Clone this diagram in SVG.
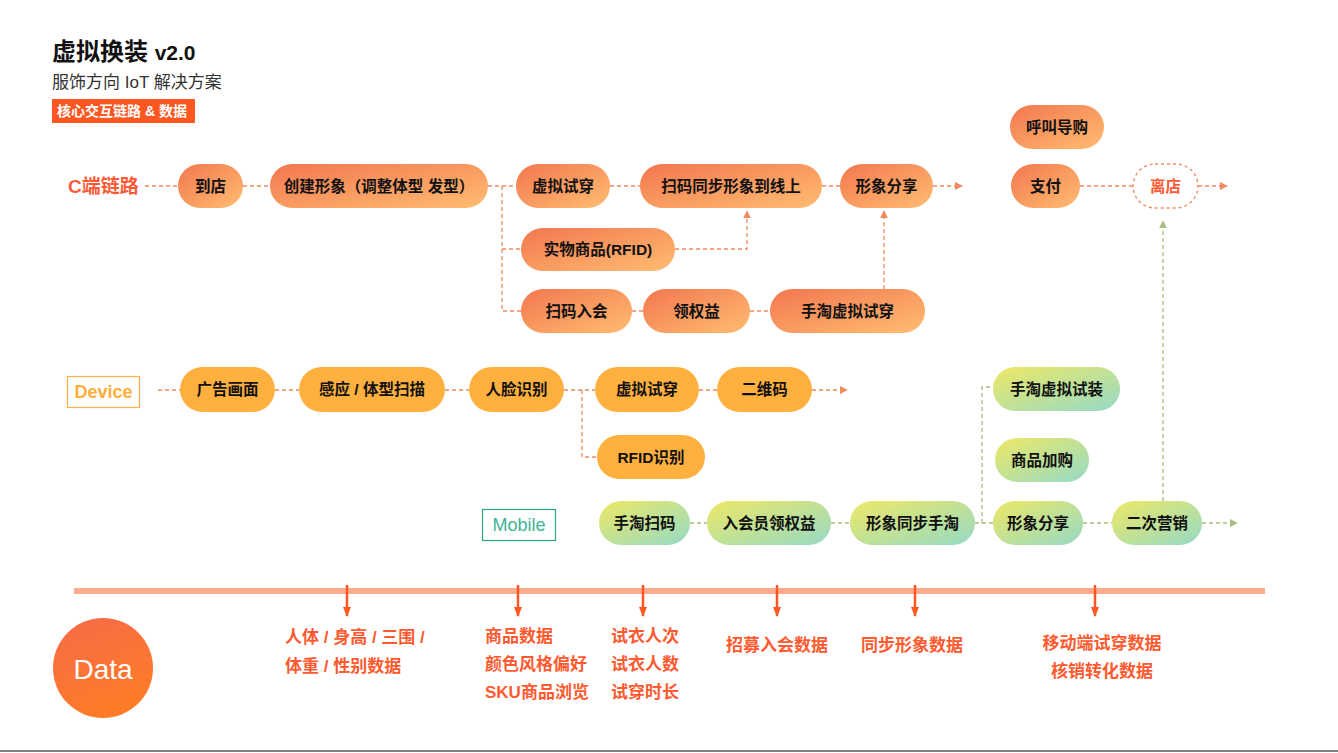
<svg xmlns="http://www.w3.org/2000/svg" width="1338" height="753" viewBox="0 0 1338 753">
<defs>
<linearGradient id="gC" x1="0" y1="0" x2="1" y2="1"><stop offset="0" stop-color="#f3774f"/><stop offset="1" stop-color="#ffbd72"/></linearGradient>
<linearGradient id="gM" x1="0" y1="0" x2="1" y2="1"><stop offset="0" stop-color="#eee865"/><stop offset="1" stop-color="#95dac6"/></linearGradient>
<linearGradient id="gD" x1="0" y1="0" x2="0.4" y2="1"><stop offset="0" stop-color="#f76a48"/><stop offset="1" stop-color="#ff7b28"/></linearGradient>
<marker id="aC" viewBox="0 0 10 10" refX="9" refY="5" markerWidth="8" markerHeight="8" markerUnits="userSpaceOnUse" orient="auto"><path d="M0,0 L10,5 L0,10 z" fill="#f08a5d"/></marker>
<marker id="aM" viewBox="0 0 10 10" refX="9" refY="5" markerWidth="8" markerHeight="8" markerUnits="userSpaceOnUse" orient="auto"><path d="M0,0 L10,5 L0,10 z" fill="#a9bc7e"/></marker>
<marker id="aR" viewBox="0 0 10 10" refX="9" refY="5" markerWidth="10" markerHeight="10" markerUnits="userSpaceOnUse" orient="auto"><path d="M0,1 L10,5 L0,9 z" fill="#ff5722"/></marker>
</defs>
<style>
text{font-family:"Liberation Sans","Noto Sans CJK SC",sans-serif;}
.n text{font-size:15.5px;font-weight:600;fill:#111;text-anchor:middle;dominant-baseline:central;}
.c{fill:url(#gC);}
.m{fill:url(#gM);}
.d{fill:#ffb03f;}
.lc{fill:none;stroke:#f08a5d;stroke-width:1.3;stroke-dasharray:4 3;}
.lm{fill:none;stroke:#a9bc7e;stroke-width:1.3;stroke-dasharray:4 3;}
.dt{font-size:17px;font-weight:600;fill:#ff5a30;}
.dc{text-anchor:middle;}
</style>
<rect width="1338" height="753" fill="#fff"/>
<line x1="0" y1="751" x2="1338" y2="751" stroke="#555" stroke-width="1.5"/>

<g id="title">
<text x="52" y="60" font-size="24" font-weight="600" fill="#111">虚拟换装 <tspan font-size="21">v2.0</tspan></text>
<text x="52" y="88" font-size="17" fill="#333">服饰方向 IoT 解决方案</text>
<rect x="52" y="99" width="143" height="24" fill="#ff5722"/>
<text x="122" y="111" font-size="14" font-weight="700" fill="#fff" text-anchor="middle" dominant-baseline="central">核心交互链路 &amp; 数据</text>
</g>

<g id="labels">
<text x="68" y="186" font-size="19" font-weight="700" fill="#ff5a36" dominant-baseline="central">C端链路</text>
<rect x="67.5" y="376.5" width="72" height="31" fill="#fff" stroke="#ffb04a" stroke-width="1.2"/>
<text x="103.5" y="392" font-size="18" font-weight="700" fill="#ffad3a" text-anchor="middle" dominant-baseline="central">Device</text>
<rect x="482.5" y="509.5" width="73" height="31" fill="#fff" stroke="#2aa87a" stroke-width="1.2"/>
<text x="519" y="525" font-size="18" fill="#3cb49a" text-anchor="middle" dominant-baseline="central">Mobile</text>
</g>

<g id="connectors">
<path class="lc" d="M145,186 H178"/>
<path class="lc" d="M243,186 H270"/>
<path class="lc" d="M488,186 H516"/>
<path class="lc" d="M610,186 H640"/>
<path class="lc" d="M822,186 H840"/>
<path class="lc" d="M933,186 H962" marker-end="url(#aC)"/>
<path class="lc" d="M1080,186 H1133"/>
<path class="lc" d="M1198,186 H1227" marker-end="url(#aC)"/>
<path class="lc" d="M502,186 V311 H521"/>
<path class="lc" d="M502,249 H521"/>
<path class="lc" d="M675,249 H747 V211" marker-end="url(#aC)"/>
<path class="lc" d="M632,311 H643"/>
<path class="lc" d="M750,311 H770"/>
<path class="lc" d="M884,289 V211" marker-end="url(#aC)"/>

<path class="lc" d="M158,390 H180"/>
<path class="lc" d="M275,390 H299"/>
<path class="lc" d="M445,390 H469"/>
<path class="lc" d="M564,390 H595"/>
<path class="lc" d="M699,390 H717"/>
<path class="lc" d="M812,390 H847" marker-end="url(#aC)"/>
<path class="lc" d="M582,390 V457 H597"/>

<path class="lm" d="M690,523 H707"/>
<path class="lm" d="M831,523 H850"/>
<path class="lm" d="M975,523 H993"/>
<path class="lm" d="M982,523 V387 H993"/>
<path class="lm" d="M1083,523 H1112"/>
<path class="lm" d="M1202,523 H1237" marker-end="url(#aM)"/>
<path class="lm" d="M1163,501 V221" marker-end="url(#aM)"/>
</g>

<g id="c-daodian" class="n"><rect class="c" x="178" y="164" width="65" height="44" rx="22"/><text x="210.5" y="186">到店</text></g>
<g id="c-chuangjian" class="n"><rect class="c" x="270" y="164" width="218" height="44" rx="22"/><text x="379" y="186">创建形象（调整体型 发型）</text></g>
<g id="c-xunishichuan" class="n"><rect class="c" x="516" y="164" width="94" height="44" rx="22"/><text x="563" y="186">虚拟试穿</text></g>
<g id="c-saomatongbu" class="n"><rect class="c" x="640" y="164" width="182" height="44" rx="22"/><text x="731" y="186">扫码同步形象到线上</text></g>
<g id="c-fenxiang" class="n"><rect class="c" x="840" y="164" width="93" height="44" rx="22"/><text x="886.5" y="186">形象分享</text></g>
<g id="c-hujiao" class="n"><rect class="c" x="1010" y="105" width="94" height="44" rx="22"/><text x="1057" y="127">呼叫导购</text></g>
<g id="c-zhifu" class="n"><rect class="c" x="1011" y="164" width="69" height="44" rx="22"/><text x="1045.5" y="186">支付</text></g>
<g id="c-lidian" class="n"><rect x="1133" y="164" width="65" height="44" rx="22" fill="#fff" stroke="#f08a5d" stroke-width="1.3" stroke-dasharray="3 3"/><text x="1165.5" y="186" style="fill:#ff5a36">离店</text></g>
<g id="c-shiwu" class="n"><rect class="c" x="521" y="228" width="154" height="43" rx="21.5"/><text x="598" y="249.5">实物商品(RFID)</text></g>
<g id="c-saomaruhui" class="n"><rect class="c" x="521" y="289" width="111" height="44" rx="22"/><text x="576.5" y="311">扫码入会</text></g>
<g id="c-lingquanyi" class="n"><rect class="c" x="643" y="289" width="107" height="44" rx="22"/><text x="696.5" y="311">领权益</text></g>
<g id="c-shoutao" class="n"><rect class="c" x="770" y="289" width="155" height="44" rx="22"/><text x="847.5" y="311">手淘虚拟试穿</text></g>

<g id="d-guanggao" class="n"><rect class="d" x="180" y="367" width="95" height="45" rx="22.5"/><text x="227.5" y="389.5">广告画面</text></g>
<g id="d-ganying" class="n"><rect class="d" x="299" y="367" width="146" height="45" rx="22.5"/><text x="372" y="389.5">感应 / 体型扫描</text></g>
<g id="d-renlian" class="n"><rect class="d" x="469" y="367" width="95" height="45" rx="22.5"/><text x="516.5" y="389.5">人脸识别</text></g>
<g id="d-xuni" class="n"><rect class="d" x="595" y="367" width="104" height="45" rx="22.5"/><text x="647" y="389.5">虚拟试穿</text></g>
<g id="d-erweima" class="n"><rect class="d" x="717" y="367" width="95" height="45" rx="22.5"/><text x="764.5" y="389.5">二维码</text></g>
<g id="d-rfid" class="n"><rect class="d" x="597" y="435" width="108" height="44" rx="22"/><text x="651" y="457">RFID识别</text></g>

<g id="m-saoma" class="n"><rect class="m" x="599" y="501" width="91" height="44" rx="22"/><text x="644.5" y="523">手淘扫码</text></g>
<g id="m-ruhui" class="n"><rect class="m" x="707" y="501" width="124" height="44" rx="22"/><text x="769" y="523">入会员领权益</text></g>
<g id="m-tongbu" class="n"><rect class="m" x="850" y="501" width="125" height="44" rx="22"/><text x="912.5" y="523">形象同步手淘</text></g>
<g id="m-fenxiang" class="n"><rect class="m" x="993" y="501" width="90" height="44" rx="22"/><text x="1038" y="523">形象分享</text></g>
<g id="m-yingxiao" class="n"><rect class="m" x="1112" y="501" width="90" height="44" rx="22"/><text x="1157" y="523">二次营销</text></g>
<g id="m-shizhuang" class="n"><rect class="m" x="993" y="367" width="127" height="44" rx="22"/><text x="1056.5" y="389">手淘虚拟试装</text></g>
<g id="m-jiagou" class="n"><rect class="m" x="995" y="438" width="94" height="44" rx="22"/><text x="1042" y="460">商品加购</text></g>

<g id="data">
<rect x="74" y="588" width="1191" height="6" fill="#ffab8e"/>
<g stroke="#ff5722" stroke-width="2.5">
<line x1="347" y1="585" x2="347" y2="616" marker-end="url(#aR)"/>
<line x1="518" y1="585" x2="518" y2="616" marker-end="url(#aR)"/>
<line x1="643" y1="585" x2="643" y2="616" marker-end="url(#aR)"/>
<line x1="777" y1="585" x2="777" y2="616" marker-end="url(#aR)"/>
<line x1="915" y1="585" x2="915" y2="616" marker-end="url(#aR)"/>
<line x1="1095" y1="585" x2="1095" y2="616" marker-end="url(#aR)"/>
</g>
<circle cx="103" cy="668" r="50" fill="url(#gD)"/>
<text x="103" y="669" font-size="28" fill="#fff" text-anchor="middle" dominant-baseline="central">Data</text>
<text class="dt" x="285" y="643">人体 / 身高 / 三围 /</text>
<text class="dt" x="285" y="672">体重 / 性别数据</text>
<text class="dt" x="485" y="642">商品数据</text>
<text class="dt" x="485" y="670">颜色风格偏好</text>
<text class="dt" x="485" y="698">SKU商品浏览</text>
<text class="dt" x="611" y="642">试衣人次</text>
<text class="dt" x="611" y="670">试衣人数</text>
<text class="dt" x="611" y="698">试穿时长</text>
<text class="dt dc" x="777" y="651">招募入会数据</text>
<text class="dt dc" x="912" y="651">同步形象数据</text>
<text class="dt dc" x="1102" y="649">移动端试穿数据</text>
<text class="dt dc" x="1102" y="677">核销转化数据</text>
</g>
</svg>
